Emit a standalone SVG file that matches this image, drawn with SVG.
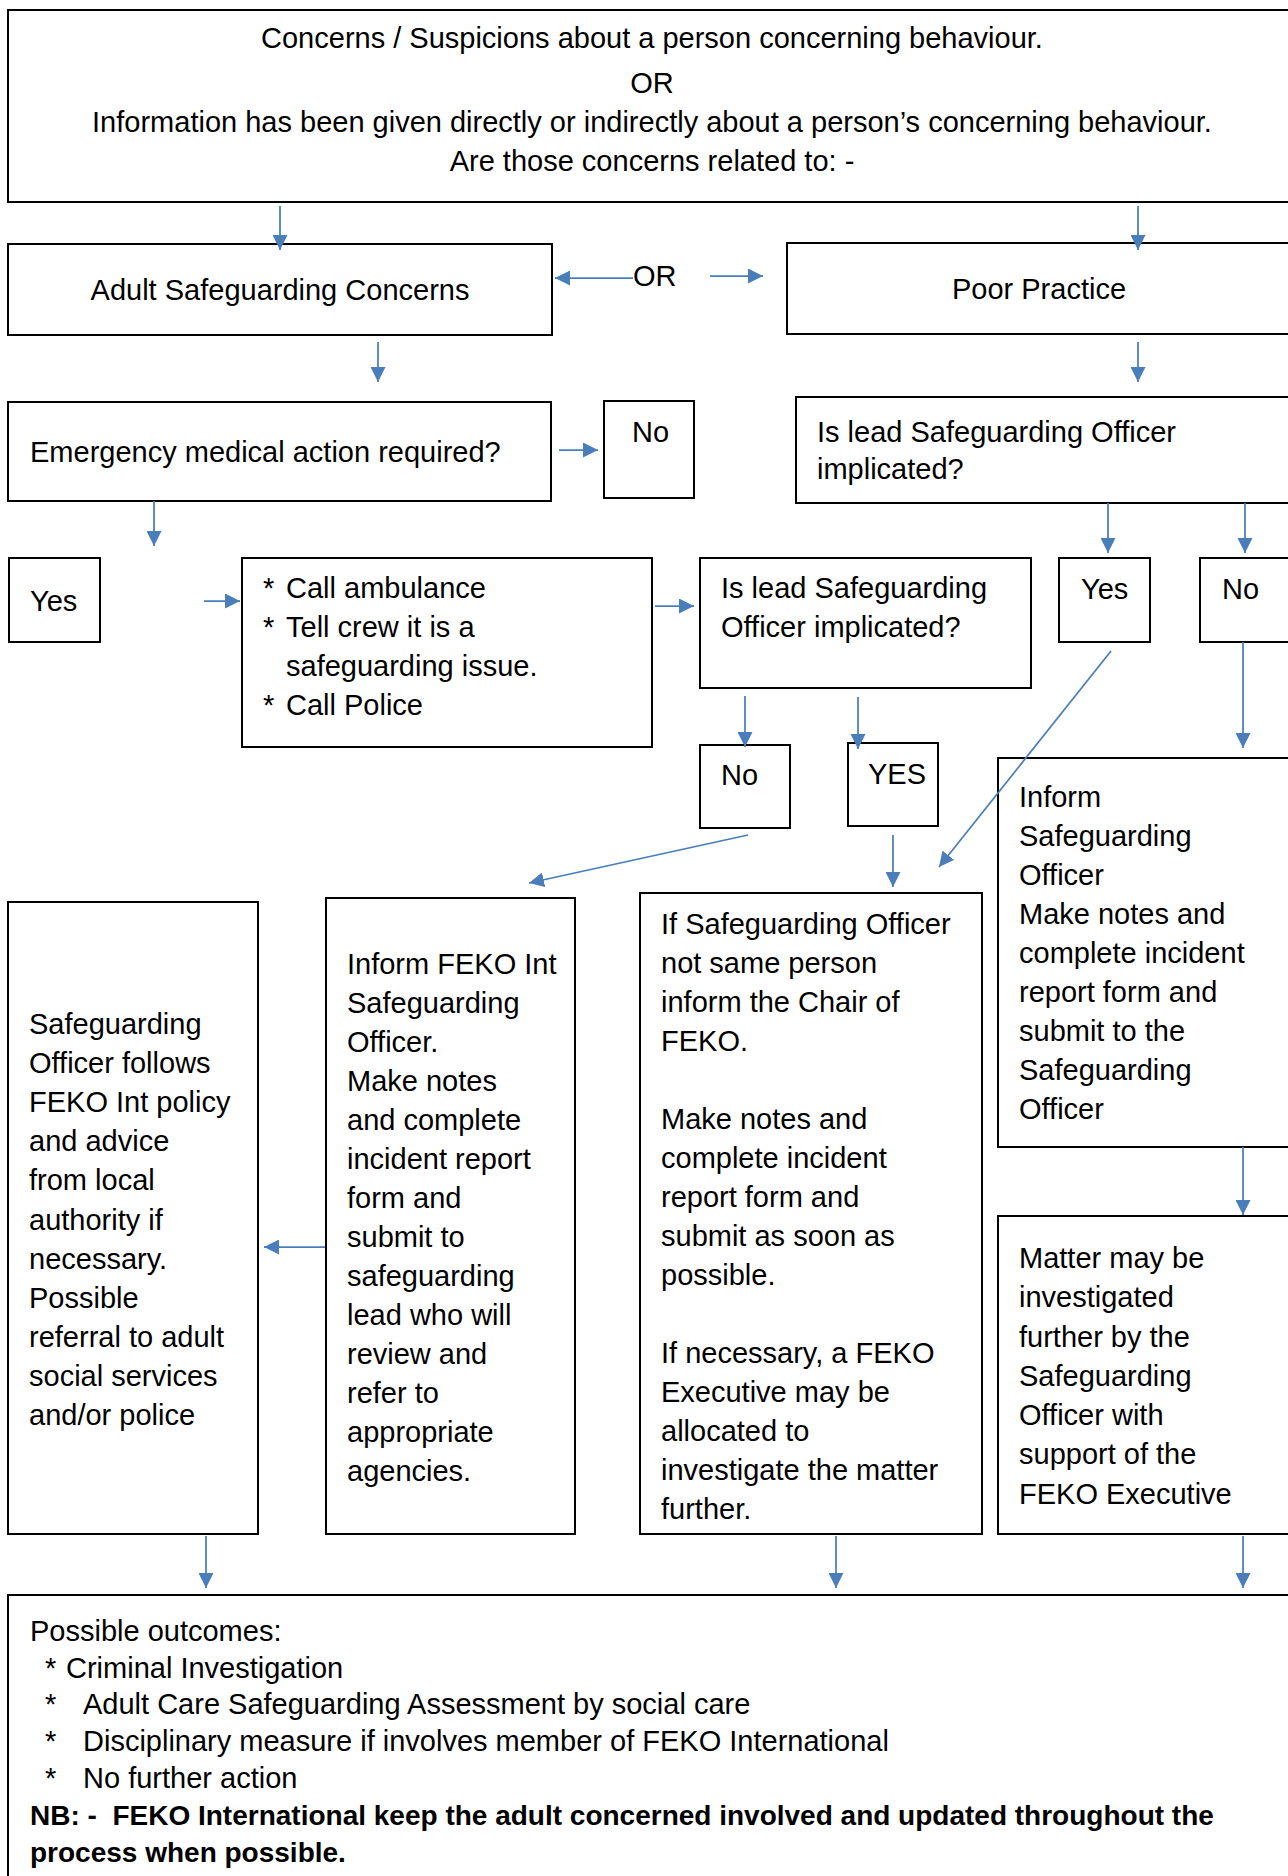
<svg xmlns="http://www.w3.org/2000/svg" width="1288" height="1876" viewBox="0 0 1288 1876">
<style>
.box{fill:#fff;stroke:#000;stroke-width:2}
.t{font-family:'Liberation Sans',Arial,sans-serif;font-size:29px;fill:#000}
.c{text-anchor:middle}
.b{font-weight:bold;font-size:28px}
.con line{stroke:#4A7EBB;stroke-width:1.75;fill:none;marker-end:url(#ah)}
</style>
<defs>
<marker id="ah" viewBox="0 0 10 10" refX="10" refY="5" markerWidth="15" markerHeight="15" markerUnits="userSpaceOnUse" orient="auto">
<path d="M0,0 L10,5 L0,10 z" fill="#4A7EBB"/>
</marker>
</defs>
<rect width="1288" height="1876" fill="#fff"/>

<g id="n-top">
<rect class="box" x="8" y="10" width="1300" height="192"/>
<text class="t c" x="652" y="48">Concerns / Suspicions about a person concerning behaviour.</text>
<text class="t c" x="652" y="93">OR</text>
<text class="t c" x="652" y="132">Information has been given directly or indirectly about a person’s concerning behaviour.</text>
<text class="t c" x="652" y="171">Are those concerns related to: -</text>
</g>

<g id="n-adult">
<rect class="box" x="8" y="244" width="544" height="91"/>
<text class="t c" x="280" y="300">Adult Safeguarding Concerns</text>
</g>

<g id="n-or">
<text class="t" x="633" y="286">OR</text>
</g>

<g id="n-poor">
<rect class="box" x="787" y="243" width="520" height="91"/>
<text class="t c" x="1039" y="299">Poor Practice</text>
</g>

<g id="n-emergency">
<rect class="box" x="8" y="402" width="543" height="99"/>
<text class="t" x="30" y="462">Emergency medical action required?</text>
</g>

<g id="n-no1">
<rect class="box" x="604" y="401" width="90" height="97"/>
<text class="t" x="632" y="442">No</text>
</g>

<g id="n-islead-top">
<rect class="box" x="796" y="397" width="510" height="106"/>
<text class="t" x="817" y="442">Is lead Safeguarding Officer</text>
<text class="t" x="817" y="479">implicated?</text>
</g>

<g id="n-yes1">
<rect class="box" x="9" y="558" width="91" height="84"/>
<text class="t" x="30" y="611">Yes</text>
</g>

<g id="n-call">
<rect class="box" x="242" y="558" width="410" height="189"/>
<text class="t" x="263" y="598">*</text>
<text class="t" x="286" y="598">Call ambulance</text>
<text class="t" x="263" y="637">*</text>
<text class="t" x="286" y="637">Tell crew it is a</text>
<text class="t" x="286" y="676">safeguarding issue.</text>
<text class="t" x="263" y="715">*</text>
<text class="t" x="286" y="715">Call Police</text>
</g>

<g id="n-islead-mid">
<rect class="box" x="700" y="558" width="331" height="130"/>
<text class="t" x="721" y="598">Is lead Safeguarding</text>
<text class="t" x="721" y="637">Officer implicated?</text>
</g>

<g id="n-yes2">
<rect class="box" x="1059" y="558" width="91" height="84"/>
<text class="t" x="1081" y="599">Yes</text>
</g>

<g id="n-no2">
<rect class="box" x="1200" y="558" width="110" height="84"/>
<text class="t" x="1222" y="599">No</text>
</g>

<g id="n-no3">
<rect class="box" x="700" y="745" width="90" height="83"/>
<text class="t" x="721" y="785">No</text>
</g>

<g id="n-yes3">
<rect class="box" x="848" y="743" width="90" height="83"/>
<text class="t" x="868" y="784">YES</text>
</g>

<g id="n-inform-so">
<rect class="box" x="998" y="758" width="310" height="389"/>
<text class="t" x="1019" y="807">Inform</text>
<text class="t" x="1019" y="846">Safeguarding</text>
<text class="t" x="1019" y="885">Officer</text>
<text class="t" x="1019" y="924">Make notes and</text>
<text class="t" x="1019" y="963">complete incident</text>
<text class="t" x="1019" y="1002">report form and</text>
<text class="t" x="1019" y="1041">submit to the</text>
<text class="t" x="1019" y="1080">Safeguarding</text>
<text class="t" x="1019" y="1119">Officer</text>
</g>

<g id="n-matter">
<rect class="box" x="998" y="1216" width="310" height="318"/>
<text class="t" x="1019" y="1268">Matter may be</text>
<text class="t" x="1019" y="1307">investigated</text>
<text class="t" x="1019" y="1347">further by the</text>
<text class="t" x="1019" y="1386">Safeguarding</text>
<text class="t" x="1019" y="1425">Officer with</text>
<text class="t" x="1019" y="1464">support of the</text>
<text class="t" x="1019" y="1504">FEKO Executive</text>
</g>

<g id="n-if-so">
<rect class="box" x="640" y="893" width="342" height="641"/>
<text class="t" x="661" y="934">If Safeguarding Officer</text>
<text class="t" x="661" y="973">not same person</text>
<text class="t" x="661" y="1012">inform the Chair of</text>
<text class="t" x="661" y="1051">FEKO.</text>
<text class="t" x="661" y="1129">Make notes and</text>
<text class="t" x="661" y="1168">complete incident</text>
<text class="t" x="661" y="1207">report form and</text>
<text class="t" x="661" y="1246">submit as soon as</text>
<text class="t" x="661" y="1285">possible.</text>
<text class="t" x="661" y="1363">If necessary, a FEKO</text>
<text class="t" x="661" y="1402">Executive may be</text>
<text class="t" x="661" y="1441">allocated to</text>
<text class="t" x="661" y="1480">investigate the matter</text>
<text class="t" x="661" y="1519">further.</text>
</g>

<g id="n-inform-feko">
<rect class="box" x="326" y="898" width="249" height="636"/>
<text class="t" x="347" y="974">Inform FEKO Int</text>
<text class="t" x="347" y="1013">Safeguarding</text>
<text class="t" x="347" y="1052">Officer.</text>
<text class="t" x="347" y="1091">Make notes</text>
<text class="t" x="347" y="1130">and complete</text>
<text class="t" x="347" y="1169">incident report</text>
<text class="t" x="347" y="1208">form and</text>
<text class="t" x="347" y="1247">submit to</text>
<text class="t" x="347" y="1286">safeguarding</text>
<text class="t" x="347" y="1325">lead who will</text>
<text class="t" x="347" y="1364">review and</text>
<text class="t" x="347" y="1403">refer to</text>
<text class="t" x="347" y="1442">appropriate</text>
<text class="t" x="347" y="1481">agencies.</text>
</g>

<g id="n-left-so">
<rect class="box" x="8" y="902" width="250" height="632"/>
<text class="t" x="29" y="1034">Safeguarding</text>
<text class="t" x="29" y="1073">Officer follows</text>
<text class="t" x="29" y="1112">FEKO Int policy</text>
<text class="t" x="29" y="1151">and advice</text>
<text class="t" x="29" y="1190">from local</text>
<text class="t" x="29" y="1230">authority if</text>
<text class="t" x="29" y="1269">necessary.</text>
<text class="t" x="29" y="1308">Possible</text>
<text class="t" x="29" y="1347">referral to adult</text>
<text class="t" x="29" y="1386">social services</text>
<text class="t" x="29" y="1425">and/or police</text>
</g>

<g id="n-outcomes">
<rect class="box" x="8" y="1595" width="1300" height="300"/>
<text class="t" x="30" y="1641">Possible outcomes:</text>
<text class="t" x="45" y="1678">*</text>
<text class="t" x="66" y="1678">Criminal Investigation</text>
<text class="t" x="45" y="1714">*</text>
<text class="t" x="83" y="1714">Adult Care Safeguarding Assessment by social care</text>
<text class="t" x="45" y="1751">*</text>
<text class="t" x="83" y="1751">Disciplinary measure if involves member of FEKO International</text>
<text class="t" x="45" y="1788">*</text>
<text class="t" x="83" y="1788">No further action</text>
<text class="t b" x="30" y="1825">NB: -&#160; FEKO International keep the adult concerned involved and updated throughout the</text>
<text class="t b" x="30" y="1862">process when possible.</text>
</g>

<g id="connectors" class="con">
<line x1="280" y1="206" x2="280" y2="250"/>
<line x1="1138" y1="206" x2="1138" y2="250"/>
<line x1="633" y1="278" x2="555" y2="278"/>
<line x1="710" y1="276" x2="763" y2="276"/>
<line x1="378" y1="342" x2="378" y2="382"/>
<line x1="1138" y1="342" x2="1138" y2="382"/>
<line x1="559" y1="450" x2="598" y2="450"/>
<line x1="154" y1="501" x2="154" y2="546"/>
<line x1="204" y1="601" x2="240" y2="601"/>
<line x1="655" y1="606" x2="694" y2="606"/>
<line x1="1108" y1="503" x2="1108" y2="553"/>
<line x1="1245" y1="503" x2="1245" y2="553"/>
<line x1="745" y1="696" x2="745" y2="747"/>
<line x1="858" y1="697" x2="858" y2="749"/>
<line x1="748" y1="835" x2="529" y2="883"/>
<line x1="1111" y1="651" x2="939" y2="867"/>
<line x1="893" y1="835" x2="893" y2="887"/>
<line x1="1243" y1="642" x2="1243" y2="748"/>
<line x1="1243" y1="1147" x2="1243" y2="1215"/>
<line x1="325" y1="1247" x2="264" y2="1247"/>
<line x1="206" y1="1536" x2="206" y2="1588"/>
<line x1="836" y1="1536" x2="836" y2="1588"/>
<line x1="1243" y1="1536" x2="1243" y2="1588"/>
</g>
</svg>
